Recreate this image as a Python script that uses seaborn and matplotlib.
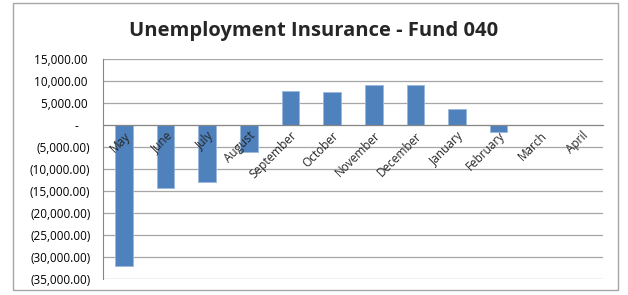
import pandas as pd
import matplotlib
matplotlib.use("Agg")
import matplotlib.pyplot as plt
import matplotlib.ticker as mticker
from matplotlib.patches import Rectangle
import seaborn as sns

months = ["May", "June", "July", "August", "September", "October",
          "November", "December", "January", "February", "March", "April"]
values = [-32000, -14300, -13000, -6200, 7800, 7600,
          9200, 9100, 3600, -1500, 0, 0]
y_ticks = [15000, 10000, 5000, 0, -5000, -10000, -15000,
           -20000, -25000, -30000, -35000]


def accounting(v, pos=None):
    # Excel accounting style: brackets for negatives, dash for zero
    if v == 0:
        return "-    "
    if v < 0:
        return f"({abs(v):,.2f})"
    return f"{v:,.2f} "


def plot_chart(data_frame: pd.DataFrame) -> None:
    sns.set_style("white")
    plt.rcParams["font.family"] = ["Open Sans", "DejaVu Sans"]

    fig = plt.figure(figsize=(6.28, 2.95), dpi=100)
    ax = fig.add_axes([0.164, 0.054, 0.796, 0.746])

    sns.barplot(data=data_frame, x="month", y="value", color="#4F81BD",
                width=0.42, edgecolor="#9BB7DA", linewidth=0.6,
                saturation=1, ax=ax, zorder=3)

    ax.set_ylim(-35000, 15000)
    ax.set_xlim(-0.5, len(months) - 0.5)
    ax.set_yticks(y_ticks)
    ax.yaxis.set_major_formatter(mticker.FuncFormatter(accounting))
    ax.tick_params(axis="y", labelsize=8.5, length=0, pad=9, colors="black")
    ax.grid(axis="y", color="#A6A6A6", linewidth=0.9, zorder=0)

    # category axis through zero, labels on top of bars
    ax.spines["bottom"].set_position(("data", 0))
    ax.spines["bottom"].set_color("#868686")
    ax.spines["bottom"].set_zorder(4)
    ax.spines["left"].set_color("#868686")
    ax.spines["top"].set_visible(False)
    ax.spines["right"].set_visible(False)
    ax.xaxis.set_zorder(5)

    ax.set_xticks([i - 0.5 for i in range(len(months) + 1)], minor=True)
    ax.tick_params(axis="x", which="minor", length=4, direction="out",
                   color="#868686", width=0.9)
    ax.set_xticks(range(len(months)))
    ax.set_xticklabels(months, rotation=45, ha="right", rotation_mode="anchor",
                       fontsize=8.5)
    ax.tick_params(axis="x", which="major", length=0, pad=3)
    ax.set_xlabel("")
    ax.set_ylabel("")

    fig.text(0.5, 0.895, "Unemployment Insurance - Fund 040", ha="center",
             va="center", fontsize=14.5, fontweight="bold")
    fig.patches.append(Rectangle((0.021, 0.017), 0.963, 0.972,
                                 transform=fig.transFigure, fill=False,
                                 edgecolor="#A6A6A6", linewidth=1))

    fig.savefig("out.png", dpi=100)


if __name__ == "__main__":
    data = pd.DataFrame({"month": months, "value": values})
    plot_chart(data)
